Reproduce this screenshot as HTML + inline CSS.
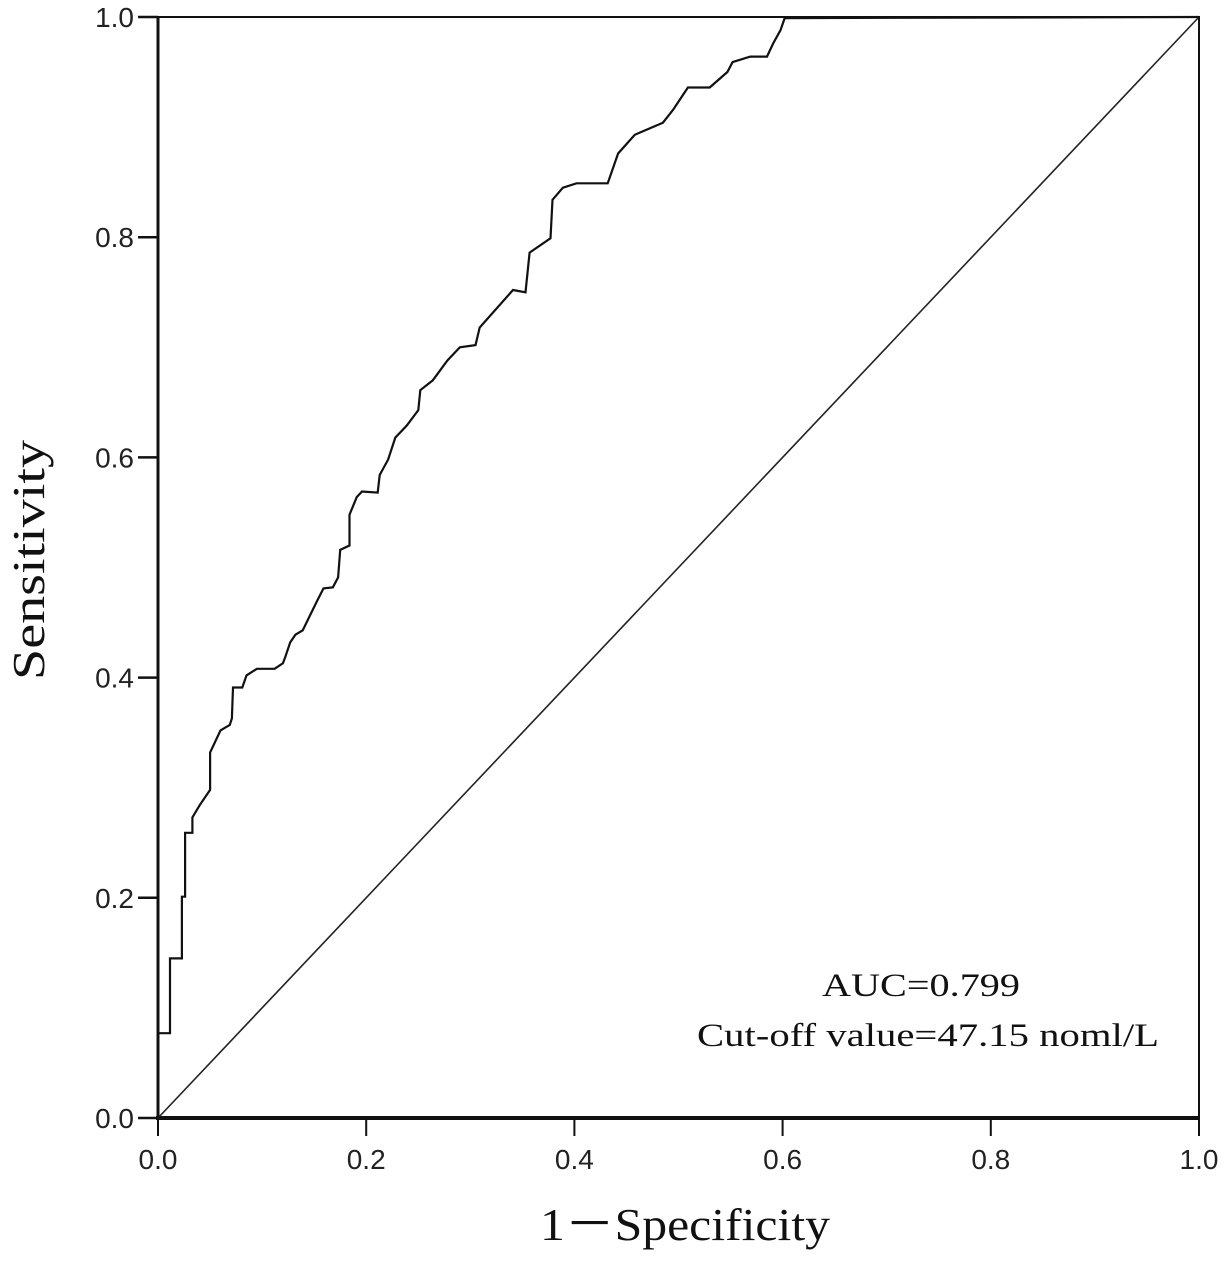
<!DOCTYPE html>
<html><head><meta charset="utf-8"><style>
html,body{margin:0;padding:0;background:#fff;}
svg{display:block;}
.tick{font-family:"Liberation Sans",sans-serif;font-size:28px;fill:#222;}
.serif{font-family:"Liberation Serif",serif;fill:#111;}
</style></head><body>
<svg id="chart" width="1229" height="1264" viewBox="0 0 1229 1264" xmlns="http://www.w3.org/2000/svg">
<g id="axes"></g>
<g id="series"></g>
<text class="serif" x="0" y="0" font-size="46" text-anchor="middle" textLength="240" lengthAdjust="spacingAndGlyphs" transform="translate(44,560) rotate(-90)">Sensitivity</text>
<text class="serif" x="685" y="1240" font-size="46" text-anchor="middle" textLength="290" lengthAdjust="spacingAndGlyphs">1－Specificity</text>
<text class="serif" x="921" y="996" font-size="33" text-anchor="middle" textLength="198" lengthAdjust="spacingAndGlyphs">AUC=0.799</text>
<text class="serif" x="928" y="1046" font-size="33" text-anchor="middle" textLength="462" lengthAdjust="spacingAndGlyphs">Cut-off value=47.15 noml/L</text>
</svg>
<script>
const fpr = [0,0,0.0115,0.0115,0.023,0.023,0.026,0.026,0.033,0.033,0.040,0.050,0.050,0.060,0.069,0.071,0.072,0.081,0.085,0.095,0.112,0.120,0.122,0.127,0.132,0.139,0.153,0.159,0.168,0.173,0.175,0.184,0.184,0.191,0.196,0.211,0.213,0.221,0.228,0.239,0.250,0.252,0.264,0.278,0.290,0.305,0.309,0.341,0.353,0.357,0.377,0.379,0.389,0.402,0.432,0.442,0.458,0.485,0.495,0.509,0.530,0.547,0.552,0.569,0.585,0.591,0.598,0.602,1];
const tpr = [0,0.077,0.077,0.145,0.145,0.201,0.201,0.259,0.259,0.273,0.284,0.298,0.332,0.352,0.357,0.363,0.391,0.391,0.402,0.408,0.408,0.413,0.418,0.432,0.439,0.443,0.470,0.481,0.482,0.491,0.516,0.520,0.548,0.564,0.569,0.568,0.584,0.598,0.618,0.629,0.643,0.661,0.670,0.688,0.700,0.702,0.718,0.752,0.750,0.786,0.799,0.834,0.845,0.849,0.849,0.876,0.893,0.904,0.916,0.936,0.936,0.950,0.959,0.964,0.964,0.976,0.988,0.999,1];
const xTicks = [0,0.2,0.4,0.6,0.8,1.0];
const yTicks = [0,0.2,0.4,0.6,0.8,1.0];
const xTickLabels = ["0.0","0.2","0.4","0.6","0.8","1.0"];
const yTickLabels = ["0.0","0.2","0.4","0.6","0.8","1.0"];

const X0=158,X1=1199,Y0=1118,Y1=17;
const sx=v=>X0+v*(X1-X0);
const sy=v=>Y0-v*(Y0-Y1);
const NS="http://www.w3.org/2000/svg";
function mk(tag,attrs,parent){const e=document.createElementNS(NS,tag);for(const k in attrs)e.setAttribute(k,attrs[k]);parent.appendChild(e);return e;}
const axes=document.getElementById('axes');
const series=document.getElementById('series');

let f=mk('rect',{x:X0,y:Y1,width:X1-X0,height:Y0-Y1,fill:'none',stroke:'#111','stroke-width':2},axes);


let ya=mk('line',{x1:X0,y1:Y1,x2:X0,y2:Y0+2,stroke:'#111','stroke-width':3},axes);


let xa=mk('line',{x1:X0-2,y1:Y0,x2:X1,y2:Y0,stroke:'#111','stroke-width':4},axes);



xTicks.forEach((v,i)=>{
  const t=mk('line',{x1:sx(v),y1:Y0,x2:sx(v),y2:Y0+18,stroke:'#111','stroke-width':2},axes);
  
  
  const l=mk('text',{x:sx(v),y:Y0+51,'text-anchor':'middle',class:'tick'},axes);
  l.textContent=xTickLabels[i];
  
  
});
yTicks.forEach((v,i)=>{
  const t=mk('line',{x1:X0-20,y1:sy(v),x2:X0,y2:sy(v),stroke:'#111','stroke-width':2.5},axes);
  
  
  const l=mk('text',{x:X0-24,y:sy(v)+10,'text-anchor':'end',class:'tick'},axes);
  l.textContent=yTickLabels[i];
  
  
});

const ref=mk('line',{x1:sx(0),y1:sy(0),x2:sx(1),y2:sy(1),stroke:'#222','stroke-width':1.6},series);



let d='';
fpr.forEach((v,i)=>{d+=(i?'L':'M')+sx(v).toFixed(1)+' '+sy(tpr[i]).toFixed(1)+' ';});
const roc=mk('path',{d:d,fill:'none',stroke:'#111','stroke-width':2.2,'stroke-linejoin':'miter'},series);


</script>
</body></html>
